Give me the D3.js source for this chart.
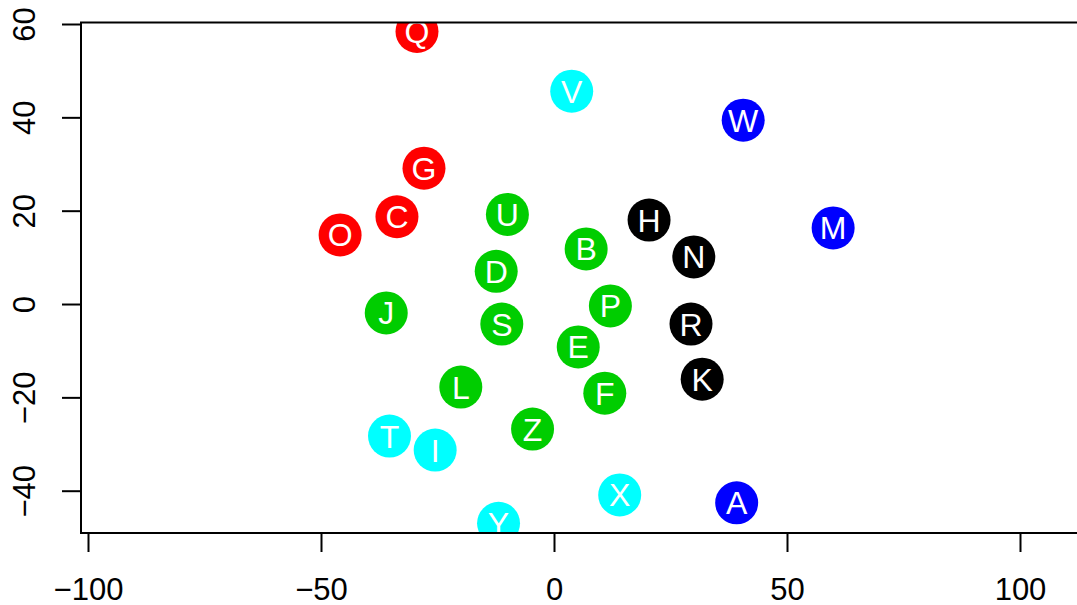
<!DOCTYPE html>
<html>
	<head>
		<style type="text/css">
			*{padding:0;margin:0;}
			body{background-color:white;overflow:hidden;}
			svg{display:block;}
		</style>
		<script src="https://cdn.jsdelivr.net/npm/d3@7"></script>
	</head>
	<body>
		<svg id="chart" width="1077" height="605"></svg>
		<script type="text/javascript">
			// point labels and coordinates
			var labels=["Q","V","W","G","C","O","U","H","M","B","N","D","J","S","P","R","E","K","L","F","Z","T","I","X","A","Y"];
			var xs=[-29.4,3.8,40.6,-27.9,-33.7,-45.9,-10.0,20.4,59.9,6.9,30.0,-12.4,-36.0,-11.2,12.1,29.4,5.2,31.8,-20.0,10.9,-4.6,-35.3,-25.5,14.1,39.2,-11.9];
			var ys=[58.4,45.6,39.4,29.1,18.7,14.8,19.2,18.0,16.3,11.8,10.1,7.0,-1.9,-4.3,-0.4,-4.3,-9.2,-16.1,-17.8,-19.1,-26.8,-28.3,-31.3,-40.9,-42.6,-47.0];
			var groups=["red","cyan","blue","red","red","red","green","black","blue","green","black","green","green","green","green","black","green","black","green","green","green","cyan","cyan","cyan","blue","cyan"];
			var xTicks=[-100,-50,0,50,100];
			var yTicks=[-40,-20,0,20,40,60];

			var groupColor={red:"#ff0000",green:"#00cd00",cyan:"#00ffff",blue:"#0000ff",black:"#000000"};

			var svg=d3.select("#chart");
			var x=d3.scaleLinear().domain([-100,100]).range([88,1020]);
			var y=d3.scaleLinear().domain([-40,60]).range([490.7,24]);

			// plot region (right edge is cut off in the picture)
			var box={left:81,top:22.5,right:1090,bottom:533};

			svg.append("clipPath").attr("id","plotclip")
				.append("rect")
				.attr("x",box.left).attr("y",box.top)
				.attr("width",box.right-box.left).attr("height",box.bottom-box.top);

			//draw the points
			var pts=svg.append("g").attr("clip-path","url(#plotclip)")
				.selectAll("g").data(labels).enter().append("g")
				.attr("transform",function(d,i){return "translate("+x(xs[i])+","+y(ys[i])+")";});
			pts.append("circle")
				.attr("r",21.5)
				.attr("fill",function(d,i){return groupColor[groups[i]];});
			pts.append("text")
				.attr("text-anchor","middle")
				.attr("y",11.5)
				.attr("fill","white")
				.style("font-family","'Liberation Sans', Arial, sans-serif")
				.style("font-size","32px")
				.text(function(d){return d;});

			//box
			svg.append("path")
				.attr("d","M"+box.right+","+box.top+"H"+box.left+"V"+box.bottom+"H"+box.right)
				.attr("fill","none").attr("stroke","black").attr("stroke-width",2);

			//axes
			var fmt=function(d){return d<0?"\u2212"+Math.abs(d):""+d;};
			var gx=svg.append("g").attr("transform","translate(0,"+box.bottom+")")
				.call(d3.axisBottom(x).tickValues(xTicks).tickSize(19).tickSizeOuter(0).tickFormat(fmt));
			gx.select(".domain").remove();
			gx.selectAll("line").attr("stroke","black").attr("stroke-width",2);
			gx.selectAll("text").attr("y",0).attr("dy",0).attr("transform","translate(0,67)")
				.attr("fill","black")
				.style("font-family","'Liberation Sans', Arial, sans-serif").style("font-size","31px");

			var gy=svg.append("g").attr("transform","translate("+box.left+",0)")
				.call(d3.axisLeft(y).tickValues(yTicks).tickSize(19).tickSizeOuter(0).tickFormat(fmt));
			gy.select(".domain").remove();
			gy.selectAll("line").attr("stroke","black").attr("stroke-width",2);
			gy.selectAll("text").attr("x",0).attr("dy",0)
				.attr("text-anchor","middle")
				.attr("transform","translate(-46,0) rotate(-90)")
				.attr("fill","black")
				.style("font-family","'Liberation Sans', Arial, sans-serif").style("font-size","31px");
		</script>
	</body>
</html>
